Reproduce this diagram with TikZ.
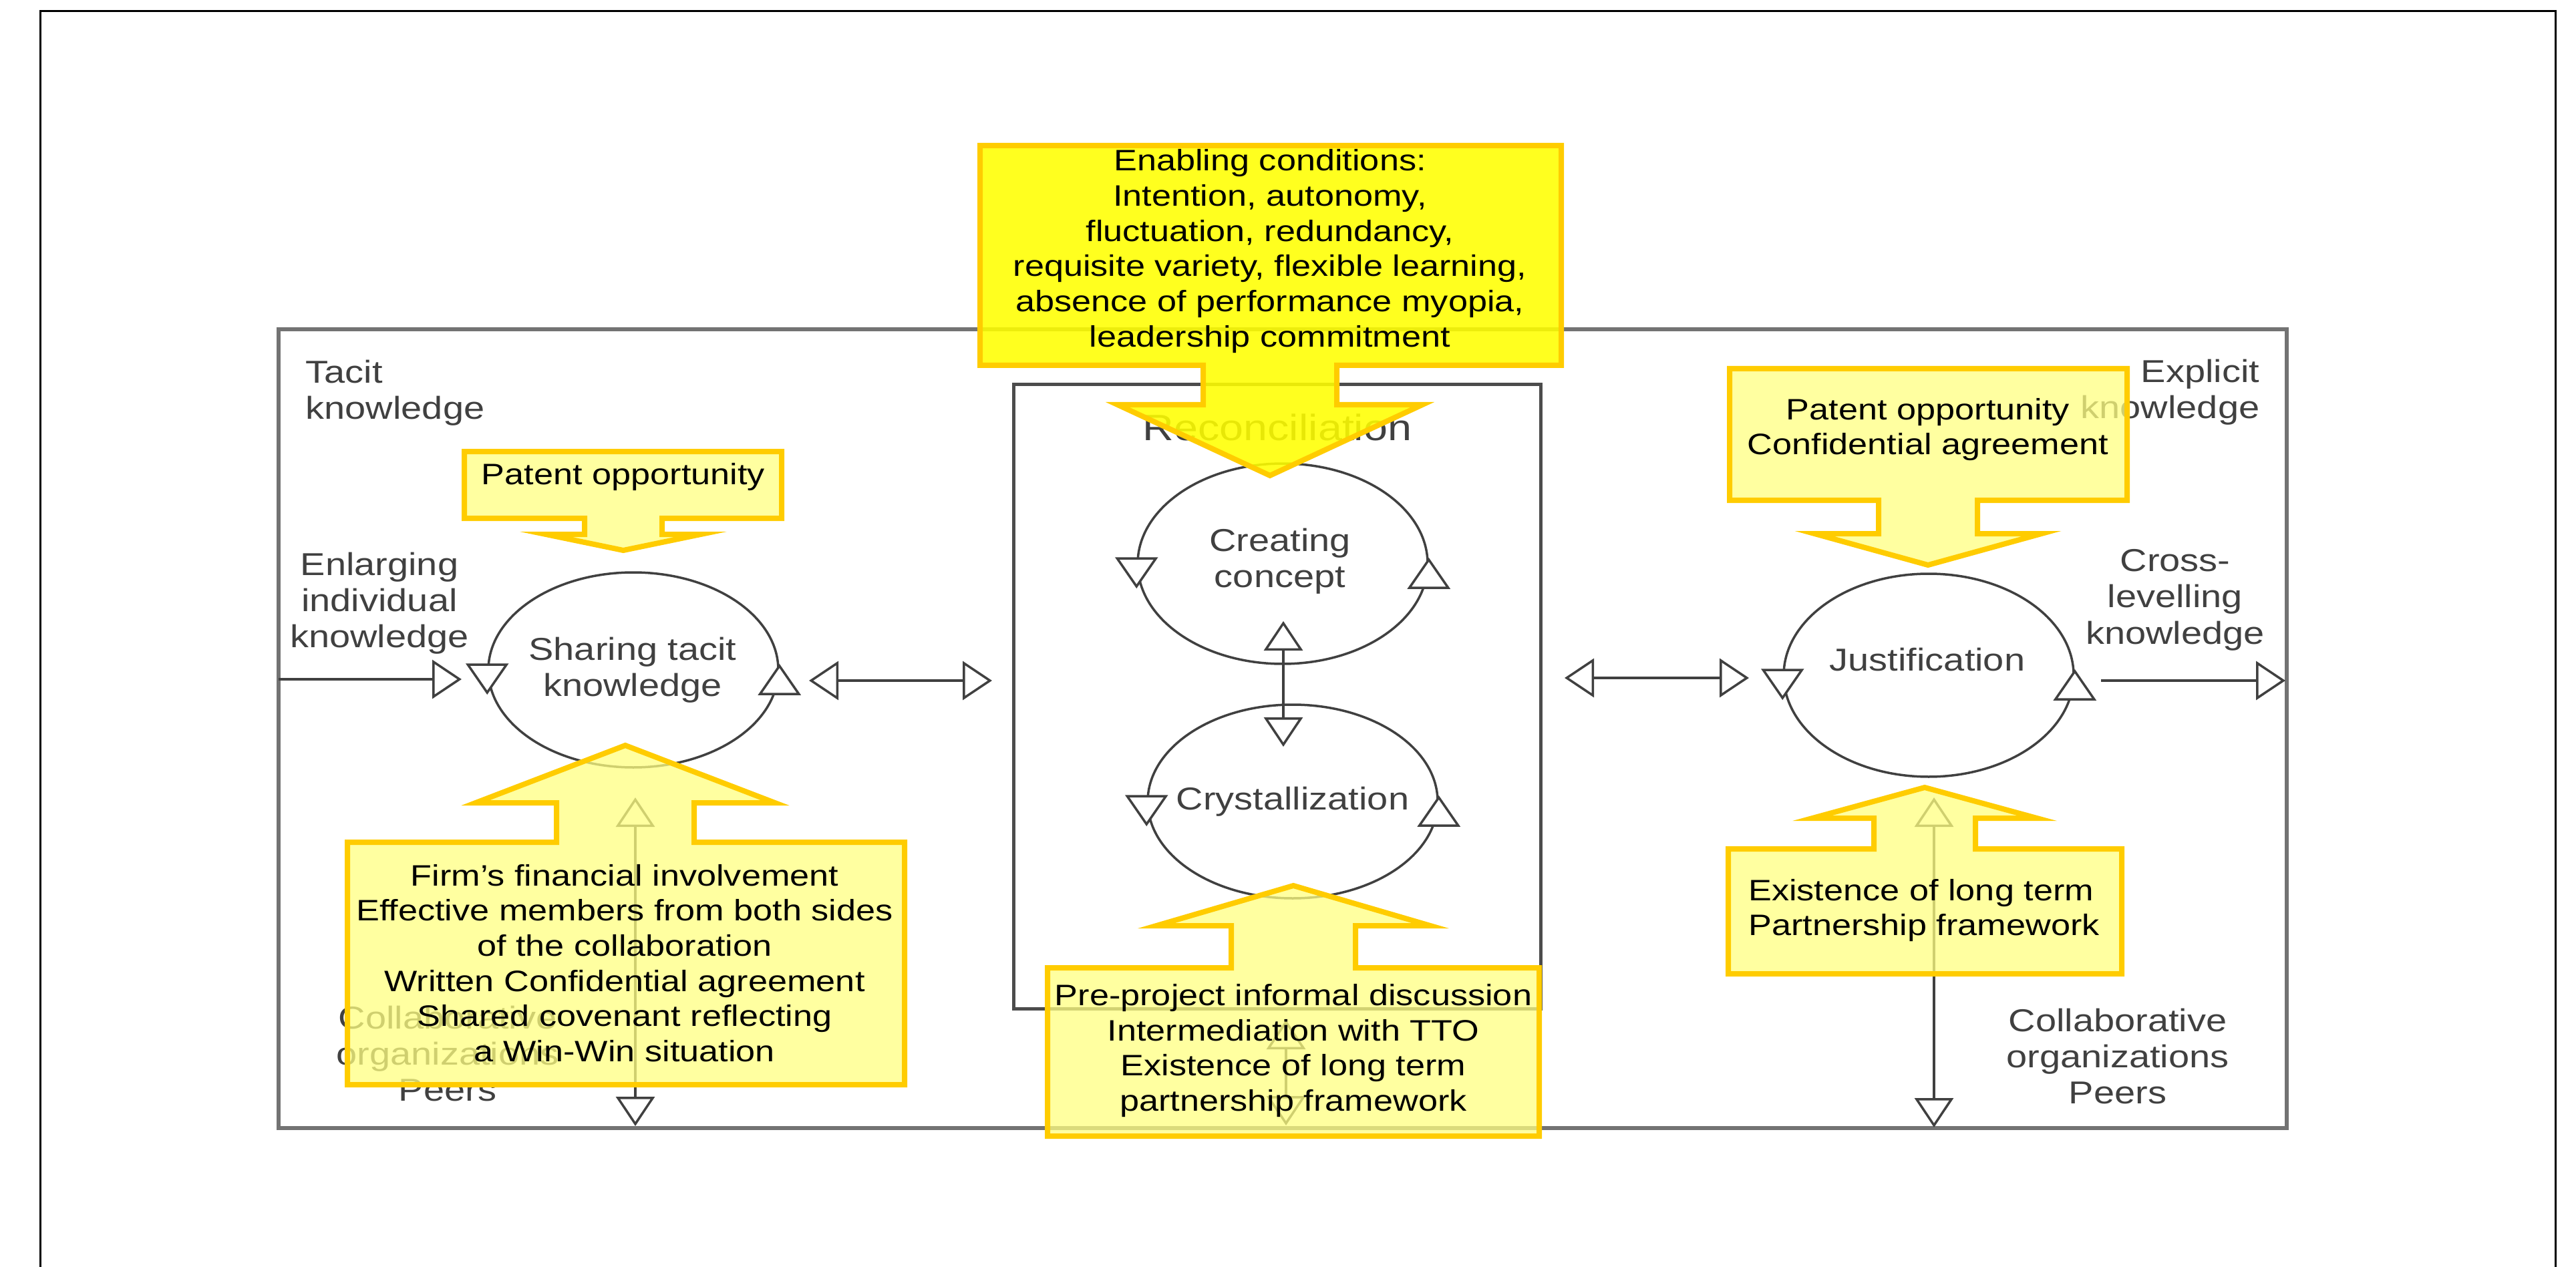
\documentclass[tikz,border=0pt]{standalone}
\usepackage{fontspec}
\setmainfont{Liberation Sans}
\newfontfamily\diafont[FakeStretch=1.18]{Liberation Sans}
\usetikzlibrary{shapes,arrows.meta,calc}
\definecolor{callfill}{HTML}{FFFF00}
\definecolor{calledge}{HTML}{FFCC00}
\definecolor{palefill}{HTML}{FFFF80}

\begin{document}
\begin{tikzpicture}[x=1cm,y=-1cm]
    \tikzstyle{proc}=[ellipse,draw=black!75,line width=0.035cm,minimum width=4.34cm,inner sep=0pt]
    \tikzstyle{lab}=[font=\diafont\fontsize{13.5}{15.4}\selectfont,text=black!75,inner sep=0pt,align=center]
    \tikzstyle{note}=[font=\diafont\fontsize{12.6}{15}\selectfont,text=black,inner sep=0pt,align=center]
    \tikzstyle{flow}=[draw=black!75,line width=0.035cm,-{Triangle[open,length=0.44cm,width=0.58cm]}]
    \tikzstyle{flows}=[flow,{Triangle[open,length=0.44cm,width=0.58cm]}-{Triangle[open,length=0.44cm,width=0.58cm]}]
    \tikzstyle{tri}=[draw=black!75,line width=0.035cm,fill=white]
    \tikzstyle{callout}=[draw=calledge,line width=0.08cm,fill=palefill,fill opacity=0.75]
    \tikzstyle{maincallout}=[callout,fill=callfill,fill opacity=0.88]

    \useasboundingbox (0,0) rectangle (38.56,18.97);
    % page frame
    \draw[line width=0.03cm] (0.60,18.97) -- (0.60,0.17) -- (38.25,0.17) -- (38.25,18.97);

    % frames
    \draw[black!55,line width=0.06cm] (4.17,4.93) rectangle (34.23,16.89);
    \draw[black!70,line width=0.05cm] (15.17,5.76) rectangle (23.06,15.10);

    % knowledge processes
    \node[proc,minimum height=2.92cm] (share) at (9.48,10.03) {};
    \node[proc,minimum height=3.00cm] (create) at (19.20,8.44) {};
    \node[proc,minimum height=2.90cm] (cryst) at (19.35,12.00) {};
    \node[proc,minimum height=3.04cm] (justif) at (28.87,10.11) {};
    \node[lab] (shareT) at (9.47,10.03) {Sharing tacit\\knowledge};
    \node[lab] (createT) at (19.16,8.40) {Creating\\concept};
    \node[lab] (crystT) at (19.35,12.00) {Crystallization};
    \node[lab] (justifT) at (28.85,9.88) {Justification};

    \foreach \n in {share,create,cryst,justif}{
      \draw[tri] ($(\n.west)+(-0.29,-0.08)$) -- ++(0.58,0) -- ++(-0.29,0.42) -- cycle;
      \draw[tri] ($(\n.east)+(0,-0.06)$) -- ++(0.29,0.42) -- ++(-0.58,0) -- cycle;
    }

    % connectors
    \coordinate (inL) at (4.17,10.17);
    \coordinate (inR) at (6.91,10.17);
    \coordinate (a1) at (12.11,10.19);
    \coordinate (a2) at (14.85,10.19);
    \coordinate (b1) at (23.42,10.15);
    \coordinate (b2) at (26.18,10.15);
    \coordinate (outL) at (31.45,10.19);
    \coordinate (outR) at (34.21,10.19);
    \coordinate (c1) at (19.21,9.30);
    \coordinate (c2) at (19.21,11.18);
    \coordinate (d1) at (9.51,11.94);
    \coordinate (d2) at (9.51,16.86);
    \coordinate (e1) at (19.25,15.27);
    \coordinate (e2) at (19.25,16.85);
    \coordinate (f1) at (28.95,11.94);
    \coordinate (f2) at (28.95,16.88);
    \draw[flow] (inL) -- (inR);
    \draw[flows] (a1) -- (a2);
    \draw[flows] (b1) -- (b2);
    \draw[flow] (outL) -- (outR);
    \draw[flows] (c1) -- (c2);
    \draw[flows] (d1) -- (d2);
    \draw[flows] (e1) -- (e2);
    \draw[flows] (f1) -- (f2);

    % labels
    \node[lab,anchor=north west,align=left] (tacit) at (4.57,5.38) {Tacit\\knowledge};
    \node[lab,anchor=north] (enlarge) at (5.68,8.26) {Enlarging\\individual\\knowledge};
    \node[lab,anchor=north east,align=right] (explicit) at (33.83,5.37) {Explicit\\knowledge};
    \node[lab,anchor=north] (cross) at (32.56,8.22) {Cross-\\levelling\\knowledge};
    \node[lab,anchor=north] (peersL) at (6.70,15.05) {Collaborative\\organizations\\Peers};
    \node[lab,anchor=north] (peersR) at (31.70,15.09) {Collaborative\\organizations\\Peers};
    \node[lab,anchor=north,font=\diafont\fontsize{15.6}{18}\selectfont] (recon) at (19.12,6.19) {Reconciliation};

    % callouts
    \draw[maincallout] (14.67,2.18) -- (23.37,2.18) -- (23.37,5.47) -- (20.01,5.47) -- (20.01,6.06) -- (21.29,6.06) -- (19.01,7.12)
      -- (16.73,6.06) -- (18.01,6.06) -- (18.01,5.47) -- (14.67,5.47) -- cycle;
    \draw[callout] (6.95,6.76) -- (11.70,6.76) -- (11.70,7.76) -- (9.91,7.76) -- (9.91,8.00) -- (10.49,8.00) -- (9.33,8.24)
      -- (8.17,8.00) -- (8.75,8.00) -- (8.75,7.76) -- (6.95,7.76) -- cycle;
    \draw[callout] (25.89,5.52) -- (31.84,5.52) -- (31.84,7.49) -- (29.60,7.49) -- (29.60,7.99) -- (30.56,7.99) -- (28.86,8.46)
      -- (27.16,7.99) -- (28.12,7.99) -- (28.12,7.49) -- (25.89,7.49) -- cycle;
    \draw[callout] (5.20,16.24) -- (13.54,16.24) -- (13.54,12.61) -- (10.39,12.61) -- (10.39,12.02) -- (11.60,12.02) -- (9.36,11.16)
      -- (7.12,12.02) -- (8.33,12.02) -- (8.33,12.61) -- (5.20,12.61) -- cycle;
    \draw[callout] (15.68,17.01) -- (23.04,17.01) -- (23.04,14.49) -- (20.29,14.49) -- (20.29,13.86) -- (21.41,13.86) -- (19.36,13.26)
      -- (17.31,13.86) -- (18.43,13.86) -- (18.43,14.49) -- (15.68,14.49) -- cycle;
    \draw[callout] (25.87,14.58) -- (31.76,14.58) -- (31.76,12.71) -- (29.57,12.71) -- (29.57,12.25) -- (30.49,12.25) -- (28.81,11.79)
      -- (27.13,12.25) -- (28.05,12.25) -- (28.05,12.71) -- (25.87,12.71) -- cycle;

    \node[note] (enabling) at (19.01,3.76) {Enabling conditions:\\Intention, autonomy,\\fluctuation, redundancy,\\requisite variety, flexible learning,\\absence of performance myopia,\\leadership commitment};
    \node[note] (patentL) at (9.33,7.14) {Patent opportunity};
    \node[note] (patentR) at (28.86,6.43) {Patent opportunity\\Confidential agreement};
    \node[note] (firm) at (9.35,14.42) {Firm’s financial involvement\\Effective members from both sides\\of the collaboration\\Written Confidential agreement\\Shared covenant reflecting\\a Win-Win situation};
    \node[note] (preproj) at (19.36,15.73) {Pre-project informal discussion\\Intermediation with TTO\\Existence of long term\\partnership framework};
    \node[note,align=left] (exist) at (28.80,13.63) {Existence of long term\\Partnership framework};
\end{tikzpicture}
\end{document}
